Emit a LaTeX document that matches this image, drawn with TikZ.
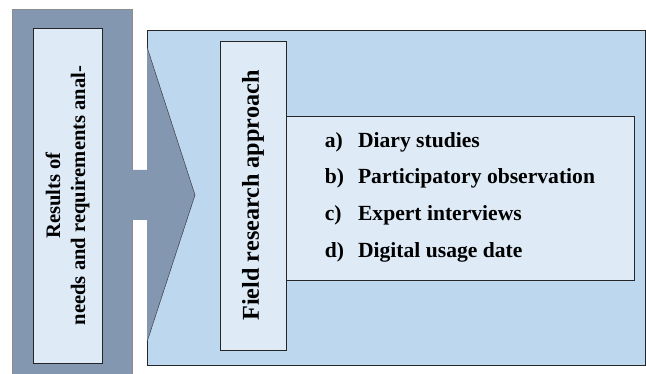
\documentclass[tikz,border=0pt]{standalone}
\usepackage{fontspec}
\setmainfont{Liberation Serif}
\definecolor{slate}{HTML}{8497B0}
\definecolor{skyfill}{HTML}{BDD7EE}
\definecolor{palefill}{HTML}{DEEBF7}

\begin{document}
\begin{tikzpicture}[
    x=1pt, y=-1pt,
    panel/.style={
        rectangle,
        draw=black!85,
        line width=0.7pt,
        inner sep=0pt
    },
    labelbox/.style={
        panel,
        fill=palefill,
        align=center,
        font=\fontsize{20.6}{25}\selectfont\bfseries
    }
]
\useasboundingbox (0,0) rectangle (646,374);

\node[panel, fill=skyfill, minimum width=498pt, minimum height=335pt] (stage) at (396,197.5) {};

\node[rectangle, fill=slate, draw=black!45, line width=0.4pt, minimum width=120pt, minimum height=366pt] (source) at (72,192) {};

% arrow from the results column into the stage
\fill[slate] (130,170) -- (147,170) -- (147,47) -- (195,195) -- (147,342) -- (147,220) -- (130,220) -- cycle;
\draw[black!75, line width=0.5pt] (147,47) -- (195,195) -- (147,342);

\node[labelbox, rotate=90, minimum width=335pt, minimum height=69pt] (results) at (67.5,195.5) {Results of\\needs and requirements anal-};

\node[labelbox, rotate=90, minimum width=309pt, minimum height=66pt, font=\fontsize{24.2}{28}\selectfont\bfseries] (field) at (253,195.5) {Field research approach};

\node[panel, fill=palefill, minimum width=348pt, minimum height=164pt] (methods) at (460,198) {};

\node[anchor=west, inner sep=0pt, font=\fontsize{21.6}{24.5}\selectfont\bfseries] (items) at ([xshift=39pt, yshift=3pt]methods.west) {%
    \renewcommand{\arraystretch}{1.5}%
    \begin{tabular}{@{}l@{\hspace{14pt}}l@{}}
    a) & Diary studies\\
    b) & Participatory observation\\
    c) & Expert interviews\\
    d) & Digital usage date
    \end{tabular}};

\end{tikzpicture}
\end{document}
